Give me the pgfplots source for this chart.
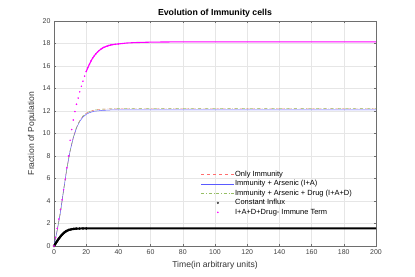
\documentclass[border=0pt]{standalone}
\usepackage{pgfplots}
\pgfplotsset{compat=1.18}
\usepackage{fontspec}
\setmainfont{Liberation Sans}
\definecolor{mred}{RGB}{255,110,110}
\definecolor{mblue}{RGB}{90,90,255}
\definecolor{mgreen}{RGB}{150,190,100}
\definecolor{mmag}{RGB}{255,0,255}
\definecolor{mgrid}{RGB}{230,230,230}
\definecolor{maxis}{RGB}{110,110,110}
\begin{document}
\begin{tikzpicture}
\begin{axis}[
  scale only axis, width=322bp, height=225bp,
  xmin=0, xmax=200, ymin=0, ymax=20,
  xtick={0,20,...,200}, ytick={0,2,...,20},
  grid=major, major grid style={mgrid, line width=0.4pt},
  axis line style={maxis, line width=0.5pt},
  tick style={maxis, line width=0.4pt}, tick align=inside,
  major tick length=2.5pt,
  tick label style={font=\fontsize{7}{8}\selectfont, text=black!75},
  /pgf/number format/assume math mode=true,
  title={\textbf{Evolution of Immunity cells}},
  title style={font=\fontsize{8.8}{10}\selectfont, yshift=-6pt},
  xlabel={Time(in arbitrary units)},
  ylabel={Fraction of Population},
  label style={font=\fontsize{8.6}{10}\selectfont, text=black!80},
  xlabel style={yshift=0.5pt},
  ylabel style={yshift=0pt},
  legend cell align=left,
  legend style={draw=none, fill=none, font=\fontsize{7.5}{8.5}\selectfont,
    at={(rel axis cs:0.4565,0.337)}, anchor=north west,
    row sep=1.3pt, inner sep=0pt,
    nodes={inner sep=0.6pt, text height=5.4pt, text depth=1.6pt}},
  legend image code/.code={\draw[mark repeat=2,mark phase=2,#1] plot coordinates {(0cm,0cm)(0.58cm,0cm)(1.16cm,0cm)};},
]
\addplot[mred, dashed, line width=0.5pt] coordinates {
(0,0)(2,1.4)(4,3.0)(6,5.0)(8,6.9)(10,8.45)(12,9.65)(14,10.55)(16,11.15)(18,11.55)(20,11.8)(22,11.95)(25,12.08)(30,12.16)(35,12.19)(40,12.2)(200,12.2)};
\addlegendentry{Only Immunity}
\addplot[mblue, line width=0.5pt] coordinates {
(0,0)(2,1.4)(4,3.0)(6,5.0)(8,6.9)(10,8.45)(12,9.63)(14,10.5)(16,11.08)(18,11.47)(20,11.7)(22,11.85)(25,11.98)(30,12.05)(35,12.09)(40,12.1)(200,12.1)};
\addlegendentry{Immunity + Arsenic (I+A)}
\addplot[mgreen, dash dot, line width=0.5pt] coordinates {
(0,0)(2,1.4)(4,3.0)(6,5.0)(8,6.9)(10,8.45)(12,9.65)(14,10.55)(16,11.15)(18,11.55)(20,11.8)(22,11.95)(25,12.08)(30,12.16)(35,12.19)(40,12.21)(200,12.21)};
\addlegendentry{Immunity + Arsenic + Drug (I+A+D)}
\addlegendimage{only marks, mark=o, black, mark size=0.9pt, line width=0.4pt}
\addlegendentry{Constant Influx}
\addplot[black, line width=2.0pt, forget plot] coordinates {
(0,0)(1,0.22)(2,0.45)(3,0.65)(4,0.85)(5,1.0)(6,1.15)(7,1.26)(8,1.35)(9,1.42)(10,1.46)(12,1.52)(14,1.545)(16,1.555)(20,1.56)(200,1.56)};
\addplot[black, only marks, mark=o, mark size=1.1pt, line width=0.4pt, forget plot] coordinates {
(0,0)(0.5,0.11)(1,0.22)(1.5,0.34)(2,0.45)(2.5,0.55)(3,0.65)(3.5,0.75)(4,0.85)(4.5,0.93)(5,1.0)(5.5,1.08)(6,1.15)(6.5,1.21)(7,1.26)(7.5,1.31)(8,1.35)(9,1.42)(10,1.46)(11,1.49)(12,1.52)(13,1.535)(14,1.545)(16,1.555)(18,1.56)(20,1.56)};
\addplot[mmag, only marks, mark=*, mark size=0.55pt] coordinates {
(0,0)(1,0.75)(2,1.55)(3,2.4)(4,3.25)(5,4.1)(6,5.0)(7,5.95)(8,6.95)(9,8.0)(10,9.4)(11,10.35)(12,11.2)(13,11.95)(14,12.6)(15,13.15)(16,13.7)(17,14.2)(18,14.65)(19,15.1)(20,15.5)(21,15.85)(22,16.15)(23,16.45)(24,16.7)(25,16.9)(26,17.08)(27,17.23)(28,17.37)(29,17.48)(30,17.58)(31,17.66)(32,17.72)(33,17.77)(34,17.82)(35,17.86)(36,17.89)(38,17.93)(40,17.96)};
\addlegendentry{I+A+D+Drug- Immune Term}
\addplot[mmag, line width=1.1pt, forget plot] coordinates {
(20,15.5)(21,15.85)(22,16.15)(23,16.45)(24,16.7)(25,16.9)(26,17.08)(27,17.23)(28,17.37)(29,17.48)(30,17.58)(31,17.66)(32,17.72)(34,17.82)(36,17.89)(38,17.93)(40,17.96)(45,18.04)(50,18.08)(60,18.12)(80,18.15)(200,18.15)};
\end{axis}
\path (current axis.south west) ++(-54bp,-31bp) rectangle ++(415bp,277bp);
\end{tikzpicture}
\end{document}
